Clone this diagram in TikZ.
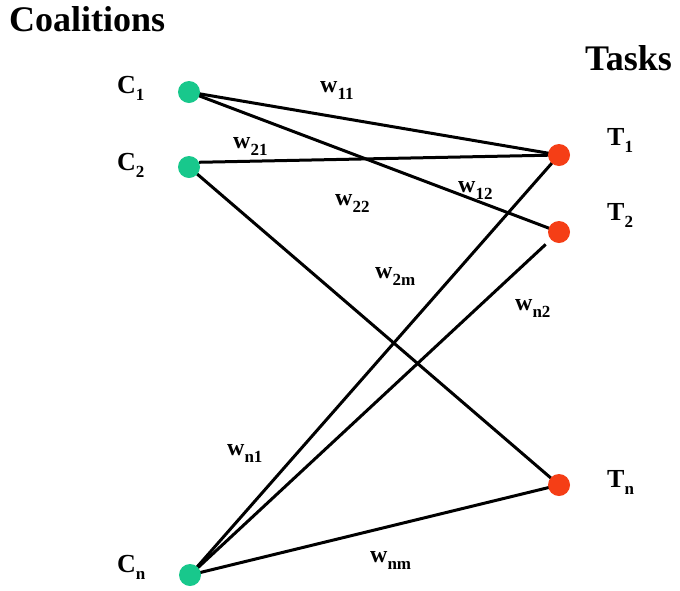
\documentclass[tikz,border=0pt]{standalone}
\usepackage{fontspec}
\setmainfont{Liberation Serif}
\usetikzlibrary{backgrounds}
\definecolor{cgreen}{RGB}{24,200,140}
\definecolor{tred}{RGB}{245,62,22}
\tikzset{
  cnode/.style={circle,fill=cgreen,minimum size=22pt,inner sep=0pt},
  tnode/.style={circle,fill=tred,minimum size=22pt,inner sep=0pt},
  lab/.style={anchor=base west,inner sep=0pt,font=\bfseries\fontsize{26}{28}\selectfont},
  wlab/.style={anchor=base west,inner sep=0pt,font=\bfseries\fontsize{24}{26}\selectfont},
  title/.style={anchor=base west,inner sep=0pt,font=\bfseries\fontsize{36}{40}\selectfont},
  edge/.style={line width=3pt,black}
}
\newcommand{\lowsub}[1]{\raisebox{-0.3em}{\fontsize{17}{18}\selectfont #1}}
\begin{document}
\begin{tikzpicture}[x=1pt,y=-1pt]
\useasboundingbox (0,0) rectangle (680,590);
\node[title] (coal) at (9,31) {Coalitions};
\node[title] (tasks) at (585,70) {Tasks};
\node[cnode] (C1) at (189,92) {};
\node[cnode] (C2) at (189,167) {};
\node[cnode] (Cn) at (190,575) {};
\node[tnode] (T1) at (559,155) {};
\node[tnode] (T2) at (559,232) {};
\node[tnode] (Tn) at (559,485) {};
\node[lab] (lC1) at (117,93) {C\lowsub{1}};
\node[lab] (lC2) at (117,170) {C\lowsub{2}};
\node[lab] (lCn) at (117,572) {C\lowsub{n}};
\node[lab] (lT1) at (607,145) {T\lowsub{1}};
\node[lab] (lT2) at (607,220) {T\lowsub{2}};
\node[lab] (lTn) at (607,487) {T\lowsub{n}};
\node[wlab] (w11) at (320,92) {w\lowsub{11}};
\node[wlab] (w21) at (233,148) {w\lowsub{21}};
\node[wlab] (w12) at (458,192) {w\lowsub{12}};
\node[wlab] (w22) at (335,205) {w\lowsub{22}};
\node[wlab] (w2m) at (375,278) {w\lowsub{2m}};
\node[wlab] (wn2) at (515,310) {w\lowsub{n2}};
\node[wlab] (wn1) at (227,455) {w\lowsub{n1}};
\node[wlab] (wnm) at (370,562) {w\lowsub{nm}};
\begin{scope}[on background layer]
\fill[white] (0,0) rectangle (680,590);
\draw[edge] (C1.center) -- (T1.center);
\draw[edge] (C1.center) -- (T2.center);
\draw[edge] (C2.25) -- (T1.center);
\draw[edge] (C2.center) -- (Tn.center);
\draw[edge] (Cn.center) -- (T1.center);
\draw[edge,shorten >=7pt] (Cn.center) -- (T2);
\draw[edge] (Cn.center) -- (Tn.center);
\end{scope}
\end{tikzpicture}
\end{document}
